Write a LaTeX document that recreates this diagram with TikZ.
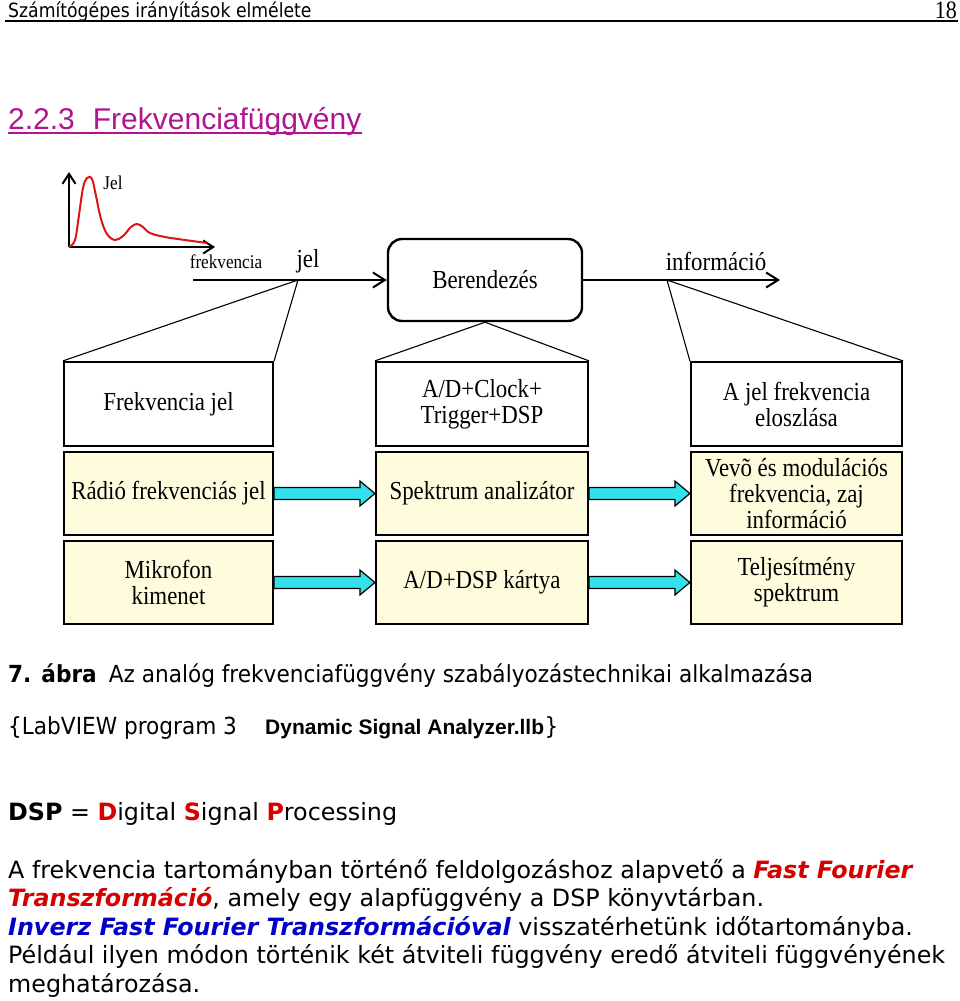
\documentclass[tikz,border=0pt]{standalone}
\usepackage{fontspec}
\setmainfont{DejaVu Sans}
\newfontfamily\tms[FakeStretch=0.88]{Liberation Serif}
\newfontfamily\arl{Liberation Sans}
\newfontfamily\hdrsans[FakeStretch=0.88]{DejaVu Sans}
\newfontfamily\capsans[FakeStretch=0.92]{DejaVu Sans}
\usetikzlibrary{arrows.meta,calc}
\definecolor{boxyellow}{RGB}{255,252,222}
\definecolor{arrcyan}{RGB}{50,225,235}
\definecolor{magtitle}{RGB}{176,20,144}
\definecolor{dred}{RGB}{215,0,0}
\definecolor{dblue}{RGB}{0,0,200}
\definecolor{curvered}{RGB}{220,20,20}
\newcommand\diagfont{\tms\fontsize{26}{26}\selectfont}
\newcommand\bodyfont{\fontsize{23.8}{28}\selectfont}
\newcommand\capfont{\capsans\fontsize{23.5}{26}\selectfont}
\tikzset{
  boxbase/.style={draw, line width=2.2pt, inner sep=0pt, align=center, font=\diagfont},
  wbox/.style={boxbase, fill=white},
  ybox/.style={boxbase, fill=boxyellow},
  blockarr/.style={draw=black, line width=1.2pt, fill=arrcyan},
  mainarr/.style={line width=2pt, -{Straight Barb[length=12pt,width=15pt]}},
  axisarr/.style={line width=2pt, -{Straight Barb[length=10pt,width=13pt]}},
  thinline/.style={line width=1.1pt},
  lbl/.style={inner sep=0pt, font=\diagfont},
  small/.style={inner sep=0pt, font=\tms\fontsize{19.5}{21}\selectfont},
  txt/.style={inner sep=0pt, anchor=base west},
}
\newcommand\cyanarrow[2]{%
  \draw[blockarr] ($(#1.east)+(0,-6)$) -- ($(#2.west)+(-15,-6)$) -- ($(#2.west)+(-15,-12.5)$)
     -- (#2.west) -- ($(#2.west)+(-15,12.5)$) -- ($(#2.west)+(-15,6)$) -- ($(#1.east)+(0,6)$) -- cycle;}
\begin{document}
\begin{tikzpicture}[x=1pt,y=-1pt]
\useasboundingbox[fill=white] (0,0) rectangle (960,1001);

% header
\node[txt, font=\hdrsans\fontsize{19.6}{22}\selectfont] (hdr) at (8,17) {Számítógépes irányítások elmélete};
\node[inner sep=0pt, anchor=base east, font=\tms\fontsize{25}{26}\selectfont] (pg) at (957,18) {18};
\draw[line width=1.5pt] (5,21) -- (958,21);

% title
\node[txt, text=magtitle, font=\arl\fontsize{30}{32}\selectfont] (title) at (8,129) {2.2.3\hspace{18pt}Frekvenciafüggvény};
\draw[magtitle, line width=1.5pt] ($(title.base west)+(0,4)$) -- ($(title.base east)+(0,4)$);

% small graph
\coordinate (orig) at (69,247);
\coordinate (ytip) at (69,172);
\coordinate (xtip) at (215,247);
\draw[axisarr] (orig) -- (ytip);
\draw[axisarr] (orig) -- (xtip);
\draw[curvered, line width=2pt] plot[smooth, tension=0.6] coordinates {(69,247) (75,240) (79,215) (83,188) (87,178) (92,179) (96,196) (101,219) (107,234) (115,240) (123,236) (131,227) (137,224) (143,227) (150,233) (165,237) (185,240) (207,243)};
\node[small] (jelax) at (113,183) {Jel};
\node[small] (frax) at (226,262) {frekvencia};

% main chain
\node[draw, line width=2.4pt, rounded corners=14pt, minimum width=194pt, minimum height=82pt, inner sep=0pt, font=\diagfont] (ber) at (485,280) {Berendezés};
\coordinate (sigin) at (193,280);
\coordinate (jelpt) at (298,280);
\coordinate (infopt) at (667,280);
\coordinate (infoend) at (780,280);
\draw[mainarr] (sigin) -- (ber.west);
\draw[mainarr] (ber.east) -- (infoend);
\node[lbl] (jellbl) at (308,261) {jel};
\node[lbl] (infolbl) at (716,261) {információ};

% boxes
\node[wbox, minimum width=209pt, minimum height=84pt] (fj) at (168.5,404) {Frekvencia jel};
\node[ybox, minimum width=209pt, minimum height=83pt] (rf) at (168.5,493.5) {Rádió frekvenciás jel};
\node[ybox, minimum width=209pt, minimum height=83pt] (mk) at (168.5,582.5) {Mikrofon\\kimenet};
\node[wbox, minimum width=212pt, minimum height=84pt] (ad) at (482,404) {A/D+Clock+\\Trigger+DSP};
\node[ybox, minimum width=212pt, minimum height=83pt] (sa) at (482,493.5) {Spektrum analizátor};
\node[ybox, minimum width=212pt, minimum height=83pt] (dk) at (482,582.5) {A/D+DSP kártya};
\node[wbox, minimum width=211pt, minimum height=84pt] (jf) at (796.5,404) {A jel frekvencia\\eloszlása};
\node[ybox, minimum width=211pt, minimum height=83pt] (vm) at (796.5,493.5) {Vevõ és modulációs\\frekvencia, zaj\\információ};
\node[ybox, minimum width=211pt, minimum height=83pt] (ts) at (796.5,582.5) {Teljesítmény\\spektrum};

% fan lines
\draw[thinline] (fj.north west) -- (jelpt) -- (fj.north east);
\draw[thinline] (ad.north west) -- (ber.south) -- (ad.north east);
\draw[thinline] (jf.north west) -- (infopt) -- (jf.north east);

% block arrows
\cyanarrow{rf}{sa}
\cyanarrow{mk}{dk}
\cyanarrow{sa}{vm}
\cyanarrow{dk}{ts}

% caption
\node[txt, font=\capfont] (cap) at (8,682) {\textbf{7. ábra}\hspace{12pt}Az analóg frekvenciafüggvény szabályozástechnikai alkalmazása};
\node[txt, font=\capfont] (lv1) at (8,734) {\{LabVIEW program 3};
\node[txt, font=\arl\bfseries\fontsize{21}{24}\selectfont] (lv2) at (265,734) {Dynamic Signal Analyzer.llb};
\node[txt, font=\capfont] (lv3) at (lv2.base east) {\}};

% body
\node[txt, font=\bodyfont] (dsp) at (8,820) {\textbf{DSP} = \textbf{\color{dred}D}igital \textbf{\color{dred}S}ignal \textbf{\color{dred}P}rocessing};
\node[txt, font=\bodyfont] (b1) at (8,878) {A frekvencia tartományban történő feldolgozáshoz alapvető a \textbf{\textit{\color{dred}Fast Fourier}}};
\node[txt, font=\bodyfont] (b2) at (8,906.5) {\textbf{\textit{\color{dred}Transzformáció}}, amely egy alapfüggvény a DSP könyvtárban.};
\node[txt, font=\bodyfont] (b3) at (8,935) {\textbf{\textit{\color{dblue}Inverz Fast Fourier Transzformációval}} visszatérhetünk időtartományba.};
\node[txt, font=\bodyfont] (b4) at (8,963.5) {Például ilyen módon történik két átviteli függvény eredő átviteli függvényének};
\node[txt, font=\bodyfont] (b5) at (8,992) {meghatározása.};
\end{tikzpicture}
\end{document}
